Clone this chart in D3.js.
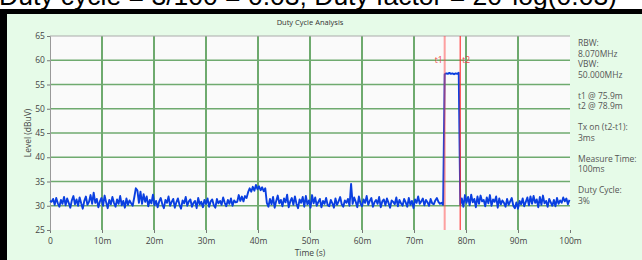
<!DOCTYPE html>
<html>
<head>
<meta charset="utf-8">
<script src="https://cdn.jsdelivr.net/npm/d3@7"></script>
<style>
  body { margin: 0; background: #fff; }
  svg text { font-family: "Open Sans", "Noto Sans", sans-serif; }
</style>
</head>
<body>
<div id="chart"></div>
<script>
var svgWidth = 642;
var svgHeight = 260;

var margin = { top: 36, right: 72, bottom: 30, left: 50 };
var width = 570 - margin.left;
var height = 230 - margin.top;

// data
var timeStep = 0.3; // ms between samples
var levels = [
  31.0, 30.8, 31.4, 30.2, 31.6, 30.5, 29.8, 31.2, 30.4, 31.8,
  30.1, 31.5, 30.6, 29.6, 31.1, 32.0, 30.3, 31.3, 30.0, 31.7,
  30.5, 29.4, 31.0, 31.9, 30.2, 30.8, 32.2, 30.4, 32.7, 30.6,
  31.4, 29.7, 30.9, 31.6, 30.0, 32.1, 30.7, 29.5, 31.2, 30.3,
  31.8, 30.6, 29.8, 31.3, 30.4, 32.0, 30.1, 31.0, 29.6, 31.5,
  30.2, 31.1, 30.5, 30.0, 31.7, 33.6, 33.2, 30.6, 32.9, 30.4,
  32.4, 30.8, 31.9, 29.9, 31.2, 30.5, 32.3, 30.1, 31.0, 29.7,
  30.9, 31.6, 30.3, 29.5, 31.2, 30.6, 31.9, 30.0, 30.8, 31.4,
  29.6, 30.7, 31.5, 30.2, 29.4, 31.1, 30.5, 31.8, 30.0, 30.9,
  31.3, 29.8, 30.6, 31.0, 29.5, 31.6, 30.3, 30.8, 29.7, 31.2,
  30.4, 31.5, 29.8, 30.9, 31.3, 30.1, 29.6, 31.4, 30.5, 31.0,
  30.2, 31.7, 30.6, 29.9, 31.2, 30.4, 31.5, 30.0, 31.1, 30.7,
  30.8, 32.2, 31.0, 31.9, 30.9, 32.0, 31.6, 32.8, 33.6, 32.9,
  33.9, 33.1, 34.3, 33.4, 34.0, 33.2, 33.8, 33.0, 33.6, 30.6,
  29.8, 31.4, 30.3, 31.8, 29.6, 31.0, 32.1, 30.5, 31.2, 29.9,
  31.5, 30.7, 32.3, 29.7, 30.9, 31.6, 30.2, 31.9, 30.4, 29.5,
  31.3, 30.6, 31.8, 29.8, 32.0, 30.3, 31.1, 29.6, 32.2, 30.5,
  31.7, 30.0, 30.8, 31.4, 29.7, 31.0, 30.4, 31.6, 30.1, 29.9,
  31.2, 30.5, 29.6, 31.5, 30.2, 30.9, 31.8, 30.3, 29.8, 31.1,
  30.6, 31.4, 30.0, 34.5, 30.4, 31.7, 30.8, 29.7, 31.9, 30.5,
  29.9, 31.3, 30.6, 32.0, 30.2, 31.0, 31.6, 29.8, 30.7, 31.2,
  30.4, 31.8, 29.7, 30.9, 31.3, 30.1, 31.5, 30.6, 29.6, 31.1,
  30.8, 30.3, 31.7, 29.9, 31.2, 30.5, 30.0, 31.4, 30.7, 29.8,
  31.6, 30.2, 31.0, 29.5, 31.3, 30.6, 31.9, 30.4, 30.9, 31.5,
  30.1, 31.2, 30.7, 30.0, 31.4, 30.5, 30.3, 31.1, 31.6, 30.8,
  30.4, 30.6, 30.2, 57.1, 57.3, 57.2, 57.4, 57.2, 57.3, 57.1,
  57.3, 57.2, 57.4, 30.2, 31.5, 29.8, 32.2, 30.6, 31.8, 30.1,
  32.3, 30.7, 31.4, 29.7, 31.9, 30.4, 32.1, 30.9, 31.2, 29.9,
  31.7, 30.5, 32.2, 30.0, 31.3, 30.8, 31.9, 29.6, 31.5, 30.3,
  31.1, 30.6, 29.8, 31.4, 30.2, 30.9, 31.6, 30.0, 29.5, 30.7,
  29.4, 31.0, 30.3, 31.5, 29.9, 30.8, 31.7, 30.1, 31.9, 30.4,
  32.0, 30.6, 31.3, 29.7, 31.8, 30.2, 32.1, 30.5, 31.0, 29.8,
  31.4, 30.7, 30.0, 31.2, 29.9, 31.6, 30.4, 31.1, 30.6, 31.7,
  30.9, 31.5, 30.3, 31.2
];

var xTicks = [0, 10, 20, 30, 40, 50, 60, 70, 80, 90, 100];
var yTicks = [25, 30, 35, 40, 45, 50, 55, 60, 65];

var markerNames = ["t1", "t2"];
var markerTimes = [75.9, 78.9];

var infoLines = ["RBW:", "8.070MHz", "VBW:", "50.000MHz", "",
  "t1 @ 75.9m", "t2 @ 78.9m", "", "Tx on (t2-t1):", "3ms", "",
  "Measure Time:", "100ms", "", "Duty Cycle:", "3%"];

var headline = "Duty cycle = 3/100 = 0.03; Duty factor = 20*log(0.03)";

var svg = d3.select("#chart")
  .append("svg")
  .attr("width", svgWidth)
  .attr("height", svgHeight);

// panel background and black frame
svg.append("rect")
  .attr("x", 0).attr("y", 0)
  .attr("width", svgWidth).attr("height", svgHeight)
  .attr("fill", "#e6fbe8");
svg.append("rect")
  .attr("x", 0).attr("y", 0)
  .attr("width", svgWidth).attr("height", 9)
  .attr("fill", "#fff");

// headline text, only its lower half shows at the top of the picture
svg.append("text")
  .attr("x", -1)
  .attr("y", 5)
  .style("font-family", "Arial, 'Liberation Sans', sans-serif")
  .style("font-size", "26.5px")
  .attr("fill", "#000")
  .text(headline);

svg.append("rect")
  .attr("x", 0).attr("y", 9)
  .attr("width", svgWidth).attr("height", 5)
  .attr("fill", "#000");
svg.append("rect")
  .attr("x", 0).attr("y", 9)
  .attr("width", 7).attr("height", svgHeight - 9)
  .attr("fill", "#000");

svg.append("text")
  .attr("x", 310)
  .attr("y", 25)
  .attr("text-anchor", "middle")
  .style("font-size", "7.5px")
  .attr("fill", "#333")
  .text("Duty Cycle Analysis");

var chartGroup = svg.append("g")
  .attr("transform", `translate(${margin.left}, ${margin.top})`);

var xScale = d3.scaleLinear().domain([0, 100]).range([0, width]);
var yScale = d3.scaleLinear().domain([25, 65]).range([height, 0]);

chartGroup.append("rect")
  .attr("width", width)
  .attr("height", height)
  .attr("fill", "#fafafa");

// grid
chartGroup.append("g")
  .selectAll("line")
  .data(xTicks.filter(d => d > 0 && d < 100))
  .enter()
  .append("line")
  .attr("x1", d => xScale(d)).attr("x2", d => xScale(d))
  .attr("y1", 0).attr("y2", height)
  .attr("stroke", "#3f8f3f")
  .attr("stroke-width", 1.5);

chartGroup.append("g")
  .selectAll("line")
  .data(yTicks.filter(d => d > 25 && d < 65))
  .enter()
  .append("line")
  .attr("x1", 0).attr("x2", width)
  .attr("y1", d => yScale(d)).attr("y2", d => yScale(d))
  .attr("stroke", "#6faa6f")
  .attr("stroke-width", 1.5);

chartGroup.append("line")
  .attr("x1", 0).attr("x2", width)
  .attr("y1", 0).attr("y2", 0)
  .attr("stroke", "#aaa");

// axes
var bottomAxis = d3.axisBottom(xScale)
  .tickValues(xTicks)
  .tickSize(3)
  .tickFormat(d => d === 0 ? "0" : d + "m");
var leftAxis = d3.axisLeft(yScale)
  .tickValues(yTicks)
  .tickSize(3);

var xAxis = chartGroup.append("g")
  .attr("transform", `translate(0, ${height})`)
  .call(bottomAxis);
var yAxis = chartGroup.append("g")
  .call(leftAxis);

[xAxis, yAxis].forEach(function(ax) {
  ax.select(".domain").attr("stroke", "#999");
  ax.selectAll(".tick line").attr("stroke", "#777");
  ax.selectAll(".tick text")
    .attr("fill", "#444")
    .style("font-size", "8.5px")
    .style("font-family", "'Open Sans', 'Noto Sans', sans-serif");
});
xAxis.select(".domain").remove();
xAxis.selectAll(".tick text").attr("dy", "0.9em");
yAxis.selectAll(".tick text").attr("dx", "0.1em");

// trace
var line = d3.line()
  .x((d, i) => xScale(i * timeStep))
  .y(d => yScale(d));

chartGroup.append("path")
  .datum(levels)
  .attr("fill", "none")
  .attr("stroke", "#0a3fe0")
  .attr("stroke-width", 1.9)
  .attr("stroke-linejoin", "round")
  .attr("d", line);

// markers
var markerColors = ["rgba(255,70,70,0.5)", "rgba(255,40,40,0.75)"];
var markerWidths = [2, 1.5];

chartGroup.selectAll(".marker")
  .data(markerTimes)
  .enter()
  .append("line")
  .attr("class", "marker")
  .attr("x1", d => xScale(d)).attr("x2", d => xScale(d))
  .attr("y1", 0).attr("y2", height)
  .attr("stroke", (d, i) => markerColors[i])
  .attr("stroke-width", (d, i) => markerWidths[i]);

chartGroup.selectAll(".marker-label")
  .data(markerTimes)
  .enter()
  .append("text")
  .attr("class", "marker-label")
  .attr("x", (d, i) => xScale(d) + (i === 0 ? -2 : 2))
  .attr("y", yScale(59.5))
  .attr("text-anchor", (d, i) => i === 0 ? "end" : "start")
  .style("font-size", "8.5px")
  .attr("fill", "#f04848")
  .text((d, i) => markerNames[i]);

// axis titles
svg.append("text")
  .attr("x", 310)
  .attr("y", 256)
  .attr("text-anchor", "middle")
  .style("font-size", "8.5px")
  .attr("fill", "#444")
  .text("Time (s)");

svg.append("text")
  .attr("transform", "rotate(-90)")
  .attr("x", -133)
  .attr("y", 31)
  .attr("text-anchor", "middle")
  .style("font-size", "8.5px")
  .attr("fill", "#444")
  .text("Level (dBuV)");

// info panel on the right
svg.append("g")
  .selectAll("text")
  .data(infoLines)
  .enter()
  .append("text")
  .attr("x", 578)
  .attr("y", (d, i) => 46 + i * 10.5)
  .style("font-size", "8.5px")
  .attr("fill", "#555")
  .text(d => d);
</script>
</body>
</html>
